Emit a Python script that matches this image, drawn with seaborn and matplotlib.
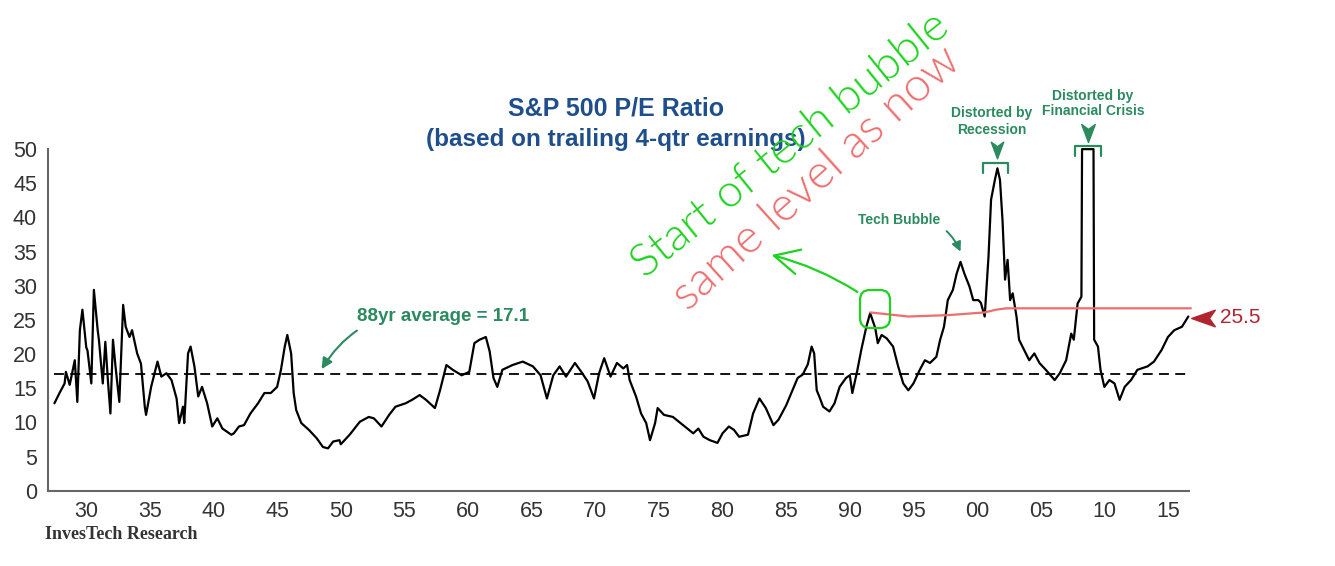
import matplotlib
matplotlib.use('Agg')
import matplotlib.pyplot as plt
from matplotlib import font_manager
from matplotlib.patches import FancyBboxPatch
from matplotlib.path import Path
import seaborn as sns

# S&P 500 trailing P/E
years = [1927.5, 1927.9, 1928.3, 1928.4, 1928.7, 1929.1, 1929.3, 1929.5, 1929.7, 1930.0,
         1930.1, 1930.4, 1930.6, 1930.9, 1931.0, 1931.3, 1931.5, 1931.7, 1931.9, 1932.1,
         1932.3, 1932.6, 1932.9, 1933.1, 1933.4, 1933.6, 1933.8, 1934.0, 1934.3, 1934.6,
         1934.7, 1935.1, 1935.6, 1935.9, 1936.3, 1936.7, 1937.1, 1937.3, 1937.6, 1937.7,
         1938.0, 1938.2, 1938.5, 1938.8, 1939.1, 1939.5, 1939.9, 1940.3, 1940.7, 1941.4,
         1941.6, 1942.0, 1942.4, 1942.9, 1943.5, 1944.0, 1944.5, 1945.0, 1945.3, 1945.6,
         1945.8, 1946.1, 1946.3, 1946.5, 1946.9, 1947.5, 1948.1, 1948.6, 1949.0, 1949.4,
         1949.9, 1950.0, 1950.7, 1951.5, 1952.2, 1952.6, 1953.2, 1953.8, 1954.3, 1955.1,
         1955.6, 1956.2, 1956.7, 1957.4, 1957.8, 1958.3, 1958.8, 1959.5, 1960.1, 1960.5,
         1960.9, 1961.4, 1961.7, 1962.0, 1962.3, 1962.7, 1963.5, 1964.3, 1965.1, 1965.7,
         1966.2, 1966.7, 1967.2, 1967.7, 1968.4, 1968.9, 1969.4, 1969.9, 1970.3, 1970.7,
         1971.2, 1971.7, 1972.2, 1972.5, 1972.7, 1973.2, 1973.6, 1974.0, 1974.3, 1974.7,
         1974.9, 1975.4, 1976.1, 1976.9, 1977.7, 1978.1, 1978.5, 1979.0, 1979.6, 1980.0,
         1980.5, 1980.9, 1981.3, 1982.0, 1982.4, 1982.9, 1983.4, 1984.0, 1984.4, 1985.0,
         1985.5, 1985.9, 1986.3, 1986.7, 1987.0, 1987.2, 1987.4, 1987.6, 1987.9, 1988.4,
         1988.8, 1989.2, 1989.7, 1990.0, 1990.2, 1990.6, 1990.9, 1991.3, 1991.6, 1992.0,
         1992.2, 1992.5, 1992.9, 1993.4, 1993.8, 1994.2, 1994.6, 1995.0, 1995.5, 1995.9,
         1996.3, 1996.8, 1997.1, 1997.4, 1997.7, 1998.1, 1998.4, 1998.7, 1999.0, 1999.4,
         1999.7, 2000.1, 2000.3, 2000.6, 2000.9, 2001.1, 2001.4, 2001.6, 2001.8, 2002.0,
         2002.2, 2002.4, 2002.6, 2002.8, 2003.1, 2003.3, 2003.7, 2004.1, 2004.5, 2004.9,
         2005.4, 2006.1, 2006.5, 2007.0, 2007.4, 2007.6, 2007.9, 2008.2, 2008.25, 2009.15,
         2009.2, 2009.5, 2009.7, 2010.0, 2010.4, 2010.8, 2011.2, 2011.6, 2012.1, 2012.6,
         2013.4, 2013.9, 2014.5, 2015.0, 2015.5, 2016.1, 2016.6]
pe_ratio = [12.8, 14.3, 15.7, 17.4, 15.5, 19.1, 13.0, 23.5, 26.5, 21.0,
            20.5, 15.7, 29.4, 23.5, 22.0, 15.7, 21.8, 16.2, 11.3, 22.1,
            18.2, 13.0, 27.2, 24.0, 22.5, 23.5, 21.8, 20.1, 18.6, 12.3,
            11.1, 15.2, 18.9, 16.7, 17.2, 16.2, 13.5, 9.9, 12.3, 9.9,
            20.1, 21.1, 18.2, 13.8, 15.2, 12.8, 9.4, 10.6, 9.1, 8.2,
            8.4, 9.4, 9.6, 11.3, 12.8, 14.3, 14.3, 15.2, 17.7, 21.1,
            22.8, 20.1, 14.3, 11.8, 9.9, 8.9, 7.7, 6.4, 6.2, 7.2,
            7.4, 6.8, 8.2, 10.1, 10.8, 10.6, 9.4, 11.1, 12.3, 12.8,
            13.3, 14.0, 13.3, 12.1, 14.7, 18.4, 17.7, 16.9, 17.4, 21.6,
            22.1, 22.5, 20.4, 16.5, 15.2, 17.7, 18.4, 18.9, 18.2, 16.9,
            13.5, 16.9, 18.2, 16.7, 18.7, 17.4, 16.0, 13.5, 17.2, 19.4,
            16.7, 18.7, 17.9, 18.4, 16.2, 13.8, 11.3, 9.9, 7.4, 9.9,
            12.1, 11.1, 10.8, 9.6, 8.4, 9.1, 7.9, 7.4, 7.0, 8.4,
            9.4, 8.9, 7.9, 8.2, 11.3, 13.5, 12.1, 9.6, 10.4, 12.5,
            14.7, 16.5, 17.0, 18.5, 21.1, 20.1, 14.7, 13.8, 12.3, 11.6,
            12.8, 15.2, 16.5, 16.9, 14.3, 17.7, 20.6, 24.0, 26.0, 23.8,
            21.6, 22.8, 22.3, 21.1, 18.2, 15.7, 14.7, 15.7, 17.7, 19.1,
            18.7, 19.6, 22.1, 24.0, 27.9, 29.4, 31.8, 33.5, 31.8, 29.9,
            27.9, 27.9, 27.5, 25.5, 34.3, 42.6, 45.5, 47.2, 45.5, 39.6,
            30.9, 33.8, 27.9, 28.9, 25.5, 22.1, 20.6, 19.1, 20.1, 18.7,
            17.7, 16.2, 17.2, 19.1, 23.0, 22.1, 27.4, 28.4, 50.0, 50.0,
            22.1, 21.1, 17.7, 15.2, 16.2, 15.7, 13.3, 15.2, 16.2, 17.7,
            18.2, 18.9, 20.6, 22.5, 23.5, 24.0, 25.5]

avg_pe = 17.1
latest_pe = 25.5

tick_years = list(range(1930, 2016, 5))
tick_labels = [str(y)[-2:] for y in tick_years]

# hand-drawn red level line (from the 1991 peak to today)
ref_years = [1991.6, 1994.6, 1997.7, 2000.6, 2001.5, 2002.3, 2016.8]
ref_level = [26.1, 25.5, 25.7, 26.1, 26.5, 26.7, 26.7]

green = '#2b8a5e'
navy = '#1f4e8c'
darkred = '#b3232f'
pen_green = '#1ed21e'
pen_red = '#ee6e6e'

sns.set_style('white')
names = {f.name for f in font_manager.fontManager.ttflist}
narrow = 'Liberation Sans Narrow' if 'Liberation Sans Narrow' in names else 'Liberation Sans'
hand = 'Lato' if 'Lato' in names else 'DejaVu Sans'
plt.rcParams['font.family'] = ['Liberation Sans', 'DejaVu Sans']

fig = plt.figure(figsize=(13.35, 5.66), dpi=100)
ax = fig.add_axes([0.036, 0.133, 0.8546, 0.6035])

sns.lineplot(x=years, y=pe_ratio, ax=ax, color='black', lw=1.6,
             estimator=None, sort=False, clip_on=False)
ax.hlines(avg_pe, years[0], years[-1], colors='black', lw=1.3,
          linestyles=(0, (5.5, 3.5)))
sns.lineplot(x=ref_years, y=ref_level, ax=ax, color=pen_red, lw=1.6,
             estimator=None, sort=False, clip_on=False)

ax.set_xlim(1927, 2016.65)
ax.set_ylim(0, 50)
ax.set_xticks(tick_years)
ax.set_xticklabels(tick_labels)
ax.set_xticks(range(1928, 2017), minor=True)
ax.set_yticks(range(0, 51, 5))
ax.set_xlabel('')
ax.set_ylabel('')
sns.despine(ax=ax)
for side in ['left', 'bottom']:
    ax.spines[side].set_color('#666666')
    ax.spines[side].set_linewidth(1.5)
ax.tick_params(axis='both', which='both', direction='inout', length=9,
               width=1.3, color='#555555')
ax.tick_params(axis='y', pad=3.5)
ax.tick_params(axis='x', pad=3)
tick_font = 16.5 if narrow.endswith('Narrow') else 15.5
for lab in ax.get_xticklabels() + ax.get_yticklabels():
    lab.set_fontfamily(narrow)
    lab.set_fontsize(tick_font)
    lab.set_color('#333333')

# titles
fig.text(0.4615, 0.809, 'S&P 500 P/E Ratio', ha='center', va='center',
         fontsize=18, fontweight='bold', color=navy)
fig.text(0.4615, 0.753, '(based on trailing 4-qtr earnings)', ha='center',
         va='center', fontsize=17.5, fontweight='bold', color=navy)
fig.text(0.0337, 0.0548, 'InvesTech Research', ha='left', va='center',
         fontsize=13, fontweight='bold', family='Liberation Serif', color='#333333')

# printed annotations
ax.annotate('88yr average = 17.1', xy=(1948.5, 17.8), xytext=(1951.3, 25.5),
            ha='left', va='center', color=green, fontsize=13.5, fontweight='bold',
            annotation_clip=False,
            arrowprops=dict(arrowstyle='-|>', color=green, lw=1.5,
                            connectionstyle='arc3,rad=0.35', shrinkA=3,
                            shrinkB=0, mutation_scale=16))
lab_font = 11.5 if narrow.endswith('Narrow') else 10
ax.annotate('Tech Bubble', xy=(1998.7, 35.0), xytext=(1997.1, 39.6),
            ha='right', va='center', color=green, fontsize=lab_font,
            fontweight='bold', family=narrow, annotation_clip=False,
            arrowprops=dict(arrowstyle='-|>', color=green, lw=1.4,
                            connectionstyle='arc3,rad=-0.4', shrinkA=3,
                            shrinkB=0, mutation_scale=14))
ax.text(2001.15, 54.1, 'Distorted by\nRecession', ha='center', va='center',
        color=green, fontsize=lab_font, fontweight='bold', family=narrow,
        linespacing=1.25, clip_on=False)
ax.text(2009.1, 56.7, 'Distorted by\nFinancial Crisis', ha='center', va='center',
        color=green, fontsize=lab_font, fontweight='bold', family=narrow,
        linespacing=1.1, clip_on=False)

down_head = Path([(0, -1), (0.75, 1), (0, 0.45), (-0.75, 1), (0, -1)],
                 [Path.MOVETO, Path.LINETO, Path.LINETO, Path.LINETO, Path.CLOSEPOLY])
left_head = Path([(-1, 0), (1, 0.7), (0.5, 0), (1, -0.7), (-1, 0)],
                 [Path.MOVETO, Path.LINETO, Path.LINETO, Path.LINETO, Path.CLOSEPOLY])
ax.plot([2001.54], [49.9], marker=down_head, markersize=12, color=green,
        linestyle='none', clip_on=False)
ax.plot([2008.7], [52.3], marker=down_head, markersize=13, color=green,
        linestyle='none', clip_on=False)
ax.plot([2000.5, 2000.5, 2002.4, 2002.4], [46.5, 47.9, 47.9, 46.5],
        color=green, lw=1.6, clip_on=False)
ax.plot([2007.7, 2007.7, 2009.7, 2009.7], [49.0, 50.4, 50.4, 49.0],
        color=green, lw=1.6, clip_on=False)

ax.plot([2017.74], [25.3], marker=left_head, markersize=17, color=darkred,
        linestyle='none', clip_on=False)
ax.text(2019.1, 25.3, f'{latest_pe}', ha='left', va='center', color=darkred,
        fontsize=15, clip_on=False)

# handwritten notes
fig.text(0.5925, 0.744, 'Start of tech bubble', ha='center', va='center',
         rotation=39, rotation_mode='anchor', fontsize=33, family=hand,
         fontweight=300, color=pen_green)
fig.text(0.612, 0.684, 'same level as now', ha='center', va='center',
         rotation=42, rotation_mode='anchor', fontsize=34, family=hand,
         fontweight=300, color=pen_red)
fig.patches.append(FancyBboxPatch((860, 238), 30, 38, boxstyle='round,pad=0,rounding_size=10',
                                  transform=None, fill=False, edgecolor=pen_green, lw=1.6))
ax.annotate('', xy=(1983.85, 34.5), xytext=(1990.6, 29.1), annotation_clip=False,
            arrowprops=dict(arrowstyle='->,head_length=0.9,head_width=0.45',
                            color=pen_green, lw=1.6, connectionstyle='arc3,rad=0.08',
                            shrinkA=0, shrinkB=0, mutation_scale=20))

fig.savefig('out.png', dpi=100)
